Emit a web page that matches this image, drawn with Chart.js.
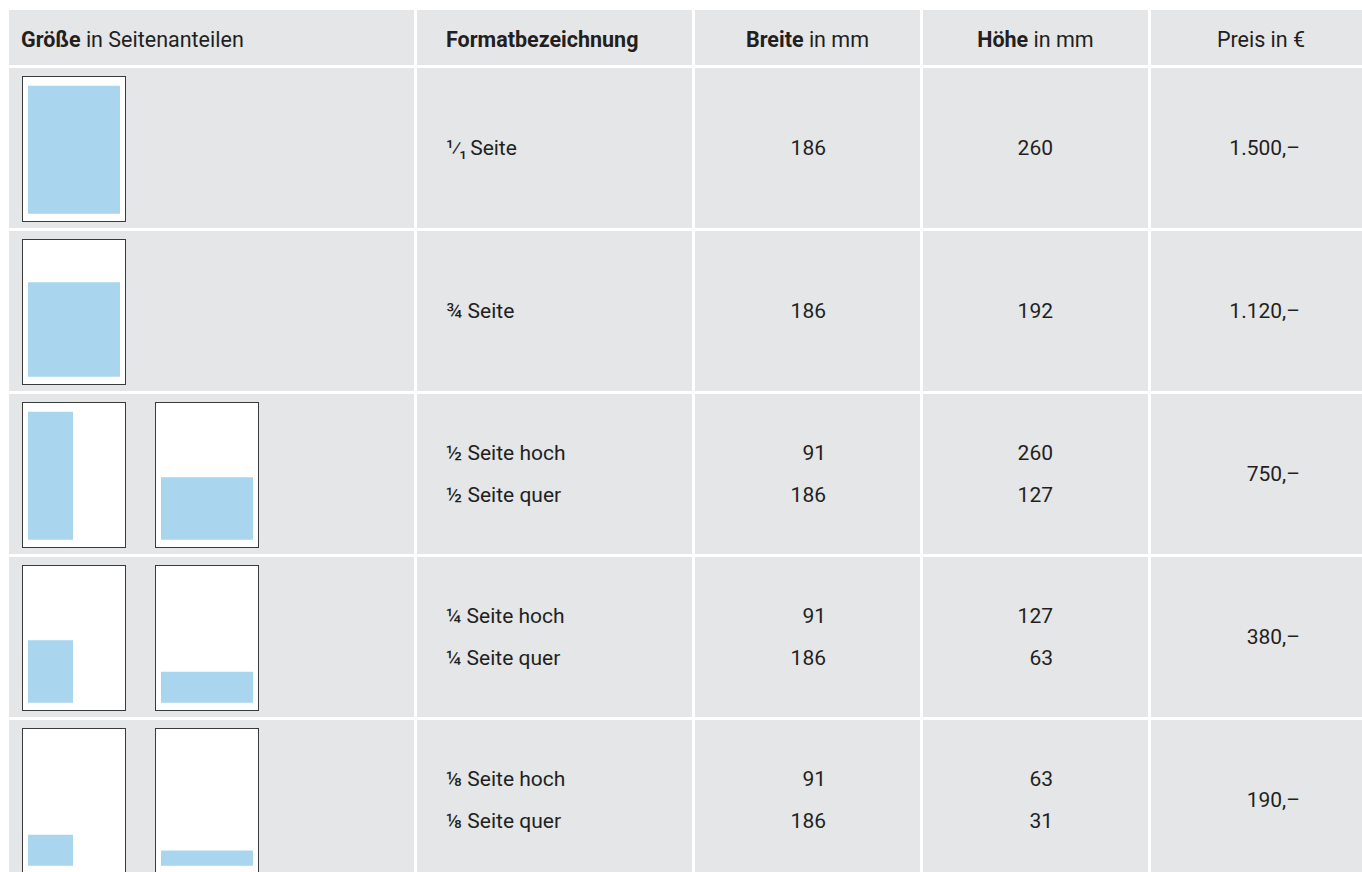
<!DOCTYPE html>
<html lang="de">
<head>
<meta charset="utf-8">
<title>Anzeigenformate und Preise</title>
<script src="https://cdn.jsdelivr.net/npm/chart.js@4/dist/chart.umd.min.js"></script>
<style>
    html, body {
        margin: 0;
        padding: 0;
        background: #fff;
        width: 1362px;
        height: 872px;
        overflow: hidden;
        font-family: Roboto, "Open Sans", sans-serif;
        color: #231f20;
    }
    #table {
        position: absolute;
        left: 9px;
        top: 10px;
        display: grid;
        grid-template-columns: 405px 275px 225px 225px 220px;
        grid-template-rows: 55px 160px 160px 160px 160px 160px;
        gap: 3px;
        font-size: 21px;
    }
    .cell {
        background: #e5e6e8;
        display: flex;
        align-items: center;
        box-sizing: border-box;
        white-space: pre;
    }
    .head { padding-top: 4px; font-size: 21.5px; }
    .head b { font-weight: 700; }
    .left { padding-left: 12px; }
    .name { padding-left: 29px; line-height: 42px; }
    .frac.tight { letter-spacing: -2px; }
    .mid { justify-content: center; }
    .num { justify-content: flex-end; text-align: right; line-height: 42px; }
    .c3 { padding-right: 94px; }
    .c4 { padding-right: 95px; }
    .c5 { padding-right: 71px; }
    .thumbs { position: relative; }
    .thumbs canvas {
        position: absolute;
        top: 8px;
        background: #fff;
        outline: 1px solid #3a3a3a;
        outline-offset: -1px;
    }
</style>
</head>
<body>
<div id="table"></div>
<script>
// Kopfzeile: [fett, normal]
const headers = [['Größe', ' in Seitenanteilen'], ['Formatbezeichnung', ''], ['Breite', ' in mm'], ['Höhe', ' in mm'], ['', 'Preis in €']];

// ein Eintrag pro Tabellenzeile, innere Arrays = Varianten (hoch / quer)
const formatNames = [['¹⁄₁ Seite'], ['¾ Seite'], ['½ Seite hoch', '½ Seite quer'], ['¼ Seite hoch', '¼ Seite quer'], ['⅛ Seite hoch', '⅛ Seite quer']];
const widthMm = [[186], [186], [91, 186], [91, 186], [91, 186]];
const heightMm = [[260], [192], [260, 127], [127, 63], [63, 31]];
const prices = ['1.500,–', '1.120,–', '750,–', '380,–', '190,–'];

// A4-Seite mit Satzspiegel 186 x 260 mm
const pageMm = {w: 210, h: 297};
const marginMm = {left: 12, bottom: 17};
const blue = '#a9d5ef';

const table = document.getElementById('table');

function cell(cls, html) {
    const d = document.createElement('div');
    d.className = 'cell ' + cls;
    d.innerHTML = html;
    table.appendChild(d);
    return d;
}

/**
 * Draws one page thumbnail, the blue area is a filled line on mm scales
 */
function drawThumb(canvas, w, h) {
    const y0 = marginMm.bottom;
    return new Chart(canvas, {
        type: 'scatter',
        data: {
            datasets: [{
                data: [{x: marginMm.left, y: y0 + h}, {x: marginMm.left + w, y: y0 + h}],
                showLine: true,
                fill: {value: y0},
                backgroundColor: blue,
                borderColor: 'transparent',
                borderWidth: 0,
                pointRadius: 0,
                tension: 0
            }]
        },
        options: {
            responsive: false,
            animation: false,
            events: [],
            layout: {padding: 0},
            plugins: {legend: {display: false}, tooltip: {enabled: false}},
            scales: {
                x: {type: 'linear', min: 0, max: pageMm.w, display: false},
                y: {type: 'linear', min: 0, max: pageMm.h, display: false}
            }
        }
    });
}

// fraction in front gets its own span, the composed 1/1 sits tighter
function nameHtml(n) {
    const i = n.indexOf(' ');
    const f = n.slice(0, i);
    const cls = f.length > 1 ? 'frac tight' : 'frac';
    return '<span class="' + cls + '">' + f + '</span>' + n.slice(i);
}

// header
headers.forEach((hd, i) => {
    const cls = 'head ' + (i < 2 ? (i === 0 ? 'left' : 'name') : 'mid');
    cell(cls, '<span>' + (hd[0] ? '<b>' + hd[0] + '</b>' : '') + hd[1] + '</span>');
});

const thumbLeft = [13, 146];

formatNames.forEach((names, r) => {
    const t = cell('thumbs', '');
    names.forEach((n, k) => {
        const c = document.createElement('canvas');
        c.width = 104;
        c.height = 146;
        c.style.left = thumbLeft[k] + 'px';
        t.appendChild(c);
        drawThumb(c, widthMm[r][k], heightMm[r][k]);
    });
    cell('name', '<div>' + names.map(nameHtml).join('<br>') + '</div>');
    cell('num c3', '<div>' + widthMm[r].join('<br>') + '</div>');
    cell('num c4', '<div>' + heightMm[r].join('<br>') + '</div>');
    cell('num c5', '<div>' + prices[r] + '</div>');
});
</script>
</body>
</html>
